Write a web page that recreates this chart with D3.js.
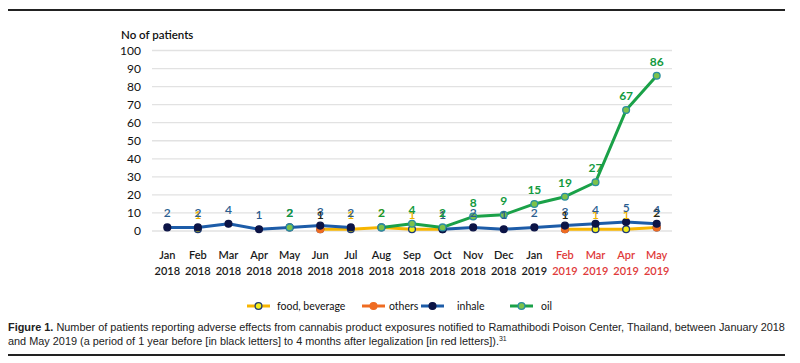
<!DOCTYPE html>
<html lang="en">
  <head>
    <meta charset="utf-8" />
    <title>Cannabis product exposures</title>
    <script src="https://cdn.jsdelivr.net/npm/d3@7"></script>
    <style>
      body {
        margin: 0;
        background: #fff;
      }
      svg {
        display: block;
      }
      .tick text,
      .chart-text {
        font-family: Lato, "Open Sans", sans-serif;
      }
      .caption {
        font-family: "Liberation Sans Narrow", "Liberation Sans", sans-serif;
        font-size: 10.9px;
        fill: #222;
      }
    </style>
  </head>
  <body>
    <svg id="chart"></svg>
    <script>
      const months = ["Jan", "Feb", "Mar", "Apr", "May", "Jun", "Jul", "Aug", "Sep", "Oct", "Nov", "Dec", "Jan", "Feb", "Mar", "Apr", "May"];
      const years = ["2018", "2018", "2018", "2018", "2018", "2018", "2018", "2018", "2018", "2018", "2018", "2018", "2019", "2019", "2019", "2019", "2019"];
      // after legalization -> red labels
      const afterLegal = [false, false, false, false, false, false, false, false, false, false, false, false, false, true, true, true, true];

      const food = [null, 1, null, null, null, 1, 1, 2, 1, 1, null, null, null, 1, 1, 1, 2];
      const others = [null, null, null, null, null, 1, null, null, null, null, null, null, null, 1, null, null, 2];
      const inhale = [2, 2, 4, 1, 2, 3, 2, null, null, 1, 2, 1, 2, 3, 4, 5, 4];
      const oil = [null, null, null, null, 2, null, null, 2, 4, 2, 8, 9, 15, 19, 27, 67, 86];

      const yTicks = [0, 10, 20, 30, 40, 50, 60, 70, 80, 90, 100];

      const series = [
        { name: "food, beverage", values: food, line: "#f7b500", fill: "#f2ee1a", stroke: "#1f3b73", label: "#f0b400", bold: false },
        { name: "others", values: others, line: "#ef6c22", fill: "#ef6c22", stroke: "#ef6c22", label: "#222", bold: false },
        { name: "inhale", values: inhale, line: "#1d5ca8", fill: "#0c1446", stroke: "#0c1446", label: "#2a5d8f", bold: false },
        { name: "oil", values: oil, line: "#1aa148", fill: "#7cc24a", stroke: "#2a8ea0", label: "#139a3e", bold: true }
      ];

      const width = 800;
      const height = 363;
      const svg = d3.select("#chart").attr("width", width).attr("height", height);

      // frame rules
      svg.append("line").attr("x1", 8).attr("x2", 785).attr("y1", 10).attr("y2", 10)
        .attr("stroke", "#222").attr("stroke-width", 2);
      svg.append("line").attr("x1", 8).attr("x2", 785).attr("y1", 355).attr("y2", 355)
        .attr("stroke", "#222").attr("stroke-width", 2);

      // scales
      const x = d3.scalePoint().domain(d3.range(months.length)).range([152, 672]).padding(0.5);
      const y = d3.scaleLinear().domain([0, 100]).range([231, 50.5]);

      // gridlines
      svg.append("g")
        .selectAll("line")
        .data(yTicks)
        .join("line")
        .attr("x1", 152)
        .attr("x2", 672)
        .attr("y1", d => y(d))
        .attr("y2", d => y(d))
        .attr("stroke", "#e2e2e2")
        .attr("stroke-width", 1.3);

      // y axis labels
      const yAxis = d3.axisLeft(y).tickValues(yTicks).tickSize(0).tickPadding(0);
      const gy = svg.append("g").attr("transform", "translate(141,0)").call(yAxis);
      gy.select(".domain").remove();
      gy.selectAll("text").attr("font-size", 12).attr("fill", "#111");

      svg.append("text")
        .attr("class", "chart-text")
        .attr("x", 121)
        .attr("y", 39)
        .attr("font-size", 11.5)
        .attr("font-weight", 600)
        .attr("fill", "#111")
        .text("No of patients");

      // x labels (two lines)
      const gx = svg.append("g");
      const xl = gx.selectAll("text")
        .data(d3.range(months.length))
        .join("text")
        .attr("class", "chart-text")
        .attr("text-anchor", "middle")
        .attr("font-size", 11)
        .attr("font-weight", 600)
        .attr("fill", i => (afterLegal[i] ? "#e03a3a" : "#1a1a1a"));
      xl.append("tspan").attr("x", i => x(i)).attr("y", 259).text(i => months[i]);
      xl.append("tspan").attr("x", i => x(i)).attr("y", 275).text(i => years[i]);

      // lines
      const line = d3.line()
        .defined(d => d != null)
        .x((d, i) => x(i))
        .y(d => y(d));

      series.forEach(s => {
        svg.append("path")
          .datum(s.values)
          .attr("fill", "none")
          .attr("stroke", s.line)
          .attr("stroke-width", 3)
          .attr("stroke-linejoin", "round")
          .attr("d", line);
      });

      // markers
      series.forEach(s => {
        svg.append("g")
          .selectAll("circle")
          .data(s.values.map((v, i) => ({ v, i })).filter(d => d.v != null))
          .join("circle")
          .attr("cx", d => x(d.i))
          .attr("cy", d => y(d.v))
          .attr("r", 3.4)
          .attr("fill", s.fill)
          .attr("stroke", s.stroke)
          .attr("stroke-width", 1.3);
      });

      // value labels
      series.forEach(s => {
        svg.append("g")
          .selectAll("text")
          .data(s.values.map((v, i) => ({ v, i })).filter(d => d.v != null))
          .join("text")
          .attr("class", "chart-text")
          .attr("x", d => x(d.i))
          .attr("y", d => y(d.v) - 10)
          .attr("text-anchor", "middle")
          .attr("font-size", 12)
          .attr("font-weight", s.bold ? 700 : 600)
          .attr("fill", s.label)
          .text(d => d.v);
      });

      // legend
      const legendItems = [
        { s: series[0], x: 247, tx: 277 },
        { s: series[1], x: 362, tx: 389 },
        { s: series[2], x: 421, tx: 457 },
        { s: series[3], x: 510, tx: 541 }
      ];
      const lg = svg.append("g").attr("transform", "translate(0,306)");
      legendItems.forEach(d => {
        lg.append("line").attr("x1", d.x).attr("x2", d.x + 23).attr("y1", 0).attr("y2", 0)
          .attr("stroke", d.s.line).attr("stroke-width", 3);
        lg.append("circle").attr("cx", d.x + 11.5).attr("cy", 0).attr("r", 3.4)
          .attr("fill", d.s.fill).attr("stroke", d.s.stroke).attr("stroke-width", 1.3);
        lg.append("text").attr("class", "chart-text").attr("x", d.tx).attr("y", 4)
          .attr("font-size", 10.5).attr("fill", "#111").text(d.s.name);
      });

      // caption
      const cap = svg.append("text").attr("class", "caption").attr("x", 8).attr("y", 331);
      cap.append("tspan").attr("font-weight", 700).text("Figure 1.");
      cap.append("tspan").text(" Number of patients reporting adverse effects from cannabis product exposures notified to Ramathibodi Poison Center, Thailand, between January 2018");
      const cap2 = svg.append("text").attr("class", "caption").attr("x", 8).attr("y", 345);
      cap2.append("tspan").text("and May 2019 (a period of 1 year before [in black letters] to 4 months after legalization [in red letters]).");
      cap2.append("tspan").attr("font-size", 7).attr("dy", -4).text("31");
    </script>
  </body>
</html>
